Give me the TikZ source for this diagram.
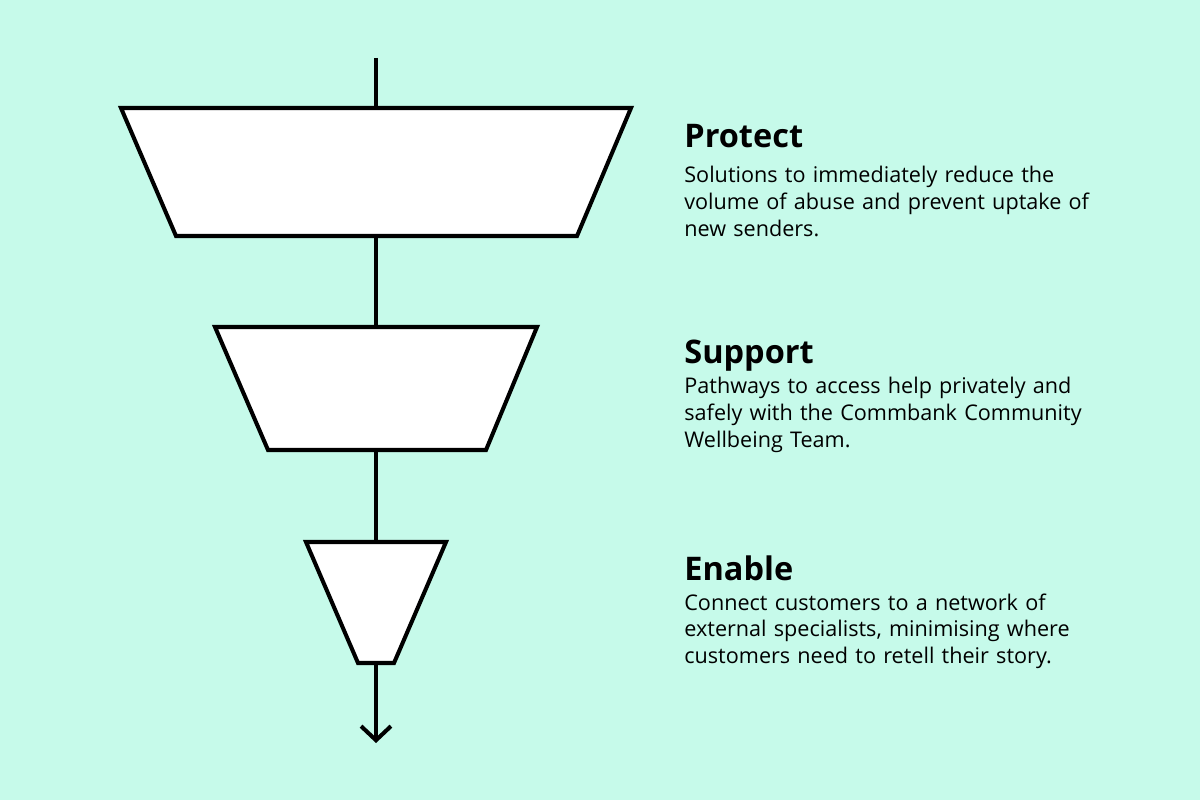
\documentclass[tikz,border=0pt]{standalone}
\usepackage{fontspec}
\setmainfont{Open Sans}
\usetikzlibrary{arrows.meta}
\definecolor{mint}{HTML}{C6FAEA}

\begin{document}
\begin{tikzpicture}[x=0.02cm,y=-0.02cm,
        stage/.style={draw=black,fill=white,line width=2.3pt,line join=miter},
        flow/.style={line width=2.3pt,black},
        title/.style={anchor=base west,inner sep=0pt,font=\fontsize{18.5}{22}\selectfont\bfseries},
        body/.style={anchor=base west,inner sep=0pt,text width=9cm,align=left,font=\fontsize{12.3}{15.3}\selectfont}
    ]
        % Background
        \fill[mint] (0,0) rectangle (1200,800);
        \useasboundingbox (0,0) rectangle (1200,800);

        % Define the stage corners
        \coordinate (start) at (376,58);
        \coordinate (protectTop) at (376,108);
        \coordinate (protectBottom) at (376,236);
        \coordinate (supportTop) at (376,327);
        \coordinate (supportBottom) at (376,450);
        \coordinate (enableTop) at (376,542);
        \coordinate (enableBottom) at (376,663);
        \coordinate (finish) at (376,743);

        % Draw the connecting line first
        \draw [flow] (start) -- (protectTop);
        \draw [flow] (protectBottom) -- (supportTop);
        \draw [flow] (supportBottom) -- (enableTop);
        \draw [flow,-{Straight Barb[length=8pt,width=17pt]}] (enableBottom) -- (finish);

        % Draw the three stages
        \draw [stage] (121,108) -- (631,108) -- (577,236) -- (176,236) -- cycle;
        \draw [stage] (215,327) -- (537,327) -- (486,450) -- (268,450) -- cycle;
        \draw [stage] (306,542) -- (446,542) -- (394,663) -- (358,663) -- cycle;

        % Labels
        \node[title] (protect) at (684,148) {Protect};
        \node[body] (protectText) at (684,183) {Solutions to immediately reduce the\\volume of abuse and prevent uptake of\\new senders.};

        \node[title] (support) at (684,364) {Support};
        \node[body] (supportText) at (684,394) {Pathways to access help privately and\\safely with the Commbank Community\\Wellbeing Team.};

        \node[title] (enable) at (684,580) {Enable};
        \node[body] (enableText) at (684,610) {Connect customers to a network of\\external specialists, minimising where\\customers need to retell their story.};
    \end{tikzpicture}
\end{document}
